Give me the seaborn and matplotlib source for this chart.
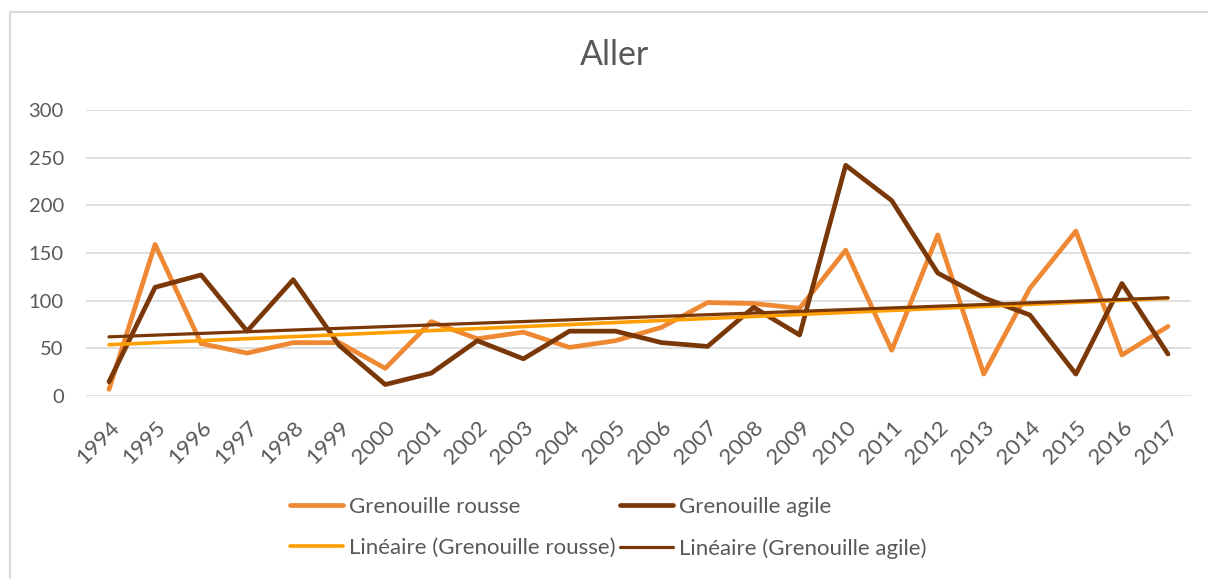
import matplotlib.pyplot as plt
import numpy as np
import pandas as pd
import seaborn as sns

# Data
years = list(range(1994, 2018))
rousse = [7, 159, 55, 45, 56, 56, 29, 78, 60, 67, 51, 58, 72, 98, 97, 92,
          153, 48, 169, 23, 113, 173, 43, 73]
agile = [15, 114, 127, 68, 122, 53, 12, 24, 58, 39, 68, 68, 56, 52, 93, 64,
         242, 205, 129, 103, 85, 23, 118, 44]
series_names = ['Grenouille rousse', 'Grenouille agile']
trend_names = ['Linéaire (Grenouille rousse)', 'Linéaire (Grenouille agile)']
yticks = [0, 50, 100, 150, 200, 250, 300]

df = pd.DataFrame({'year': years, 'rousse': rousse, 'agile': agile})

# linear trendlines (same as Excel's "Linéaire")
df['rousse_fit'] = np.polyval(np.polyfit(df['year'], df['rousse'], 1), df['year'])
df['agile_fit'] = np.polyval(np.polyfit(df['year'], df['agile'], 1), df['year'])

sns.set_style('white')
plt.rcParams['font.family'] = ['Lato', 'DejaVu Sans']
text_color = '#595959'
grid_color = '#d9d9d9'

fig = plt.figure(figsize=(12.08, 5.79), dpi=100)
ax = fig.add_axes([86 / 1208, 1 - 396 / 579, (1191 - 86) / 1208, (396 - 110) / 579])

sns.lineplot(data=df, x='year', y='rousse', ax=ax, color='#EE8833', linewidth=3.4,
             label=series_names[0], solid_capstyle='round', solid_joinstyle='round', zorder=3)
sns.lineplot(data=df, x='year', y='agile', ax=ax, color='#7A3708', linewidth=3.4,
             label=series_names[1], solid_capstyle='round', solid_joinstyle='round', zorder=4)
sns.lineplot(data=df, x='year', y='rousse_fit', ax=ax, color='#FF9E00', linewidth=2.6,
             label=trend_names[0], solid_capstyle='round', zorder=5)
sns.lineplot(data=df, x='year', y='agile_fit', ax=ax, color='#7A3708', linewidth=2.3,
             label=trend_names[1], solid_capstyle='round', zorder=6)

ax.set_xlim(years[0] - 0.5, years[-1] + 0.5)
ax.set_ylim(0, 300)
ax.set_yticks(yticks)
ax.set_xticks(years)
ax.set_xticklabels([str(y) for y in years], rotation=45, ha='right', rotation_mode='anchor')
ax.set_xlabel('')
ax.set_ylabel('')
ax.grid(axis='y', color=grid_color, linewidth=1.2)
ax.set_axisbelow(True)
for s in ax.spines.values():
    s.set_visible(False)
ax.tick_params(axis='both', length=0, labelcolor=text_color)
ax.tick_params(axis='y', pad=16, labelsize=14.5)
ax.tick_params(axis='x', pad=15, labelsize=16)

fig.text(615 / 1208, 1 - 55 / 579, 'Aller', ha='center', va='center',
         fontsize=24.5, color=text_color)

# legend below the plot, two columns filled row by row like Excel
handles, labels = ax.get_legend_handles_labels()
ax.get_legend().remove()
order = [0, 2, 1, 3]
leg = fig.legend([handles[i] for i in order], [labels[i] for i in order], ncol=2,
                 loc='center', bbox_to_anchor=(608 / 1208, 1 - 528 / 579), frameon=False,
                 fontsize=16, handlelength=2.4, handletextpad=0.25,
                 columnspacing=0.2, labelspacing=0.95)
for t in leg.get_texts():
    t.set_color(text_color)

# chart area border (left and top visible)
fig.add_artist(plt.Line2D([10 / 1208, 1], [1 - 12 / 579, 1 - 12 / 579],
                          transform=fig.transFigure, color=grid_color, linewidth=1.5))
fig.add_artist(plt.Line2D([10 / 1208, 10 / 1208], [0, 1 - 12 / 579],
                          transform=fig.transFigure, color=grid_color, linewidth=1.5))

fig.savefig('out.png', dpi=100)
